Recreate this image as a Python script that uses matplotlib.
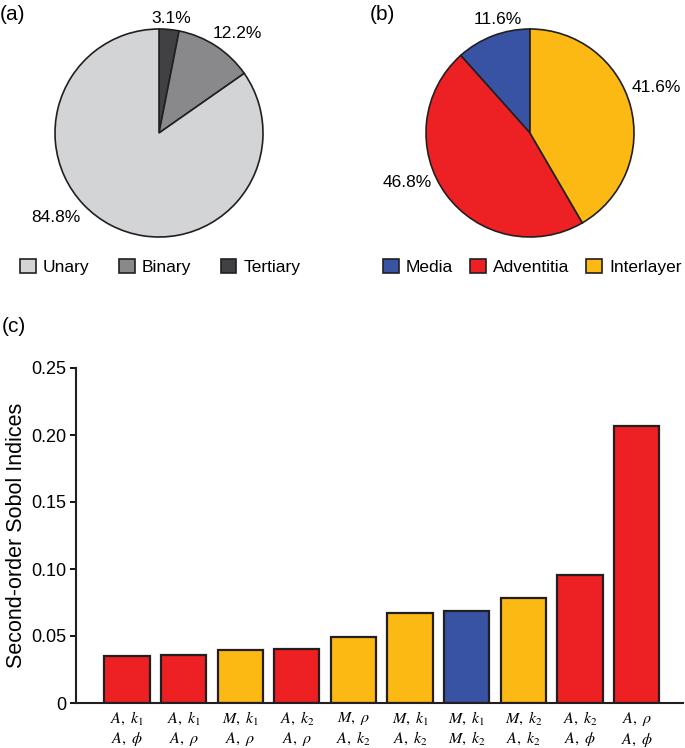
import numpy as np
import matplotlib
matplotlib.use("Agg")
import matplotlib.pyplot as plt
from matplotlib.patches import Patch

plt.rcParams['font.family'] = ['Liberation Sans', 'DejaVu Sans']
plt.rcParams['mathtext.fontset'] = 'stix'

# panel (a)
order_labels = ['Unary', 'Binary', 'Tertiary']
order_values = [84.8, 12.2, 3.1]
order_colors = ['#d3d4d6', '#89898c', '#414042']

# panel (b)
layer_labels = ['Media', 'Adventitia', 'Interlayer']
layer_values = [11.6, 46.8, 41.6]
layer_colors = ['#3953a4', '#ed2024', '#fdb913']

# panel (c)
pair_labels = [r'$A,\;k_1$' + '\n' + r'$A,\;\phi$',
               r'$A,\;k_1$' + '\n' + r'$A,\;\rho$',
               r'$M,\;k_1$' + '\n' + r'$A,\;\rho$',
               r'$A,\;k_2$' + '\n' + r'$A,\;\rho$',
               r'$M,\;\rho$' + '\n' + r'$A,\;k_2$',
               r'$M,\;k_1$' + '\n' + r'$A,\;k_2$',
               r'$M,\;k_1$' + '\n' + r'$M,\;k_2$',
               r'$M,\;k_2$' + '\n' + r'$A,\;k_2$',
               r'$A,\;k_2$' + '\n' + r'$A,\;\phi$',
               r'$A,\;\rho$' + '\n' + r'$A,\;\phi$']
sobol = [0.035, 0.0355, 0.0396, 0.0403, 0.049, 0.067, 0.069, 0.078, 0.0955, 0.207]
pair_layer = ['Adventitia', 'Adventitia', 'Interlayer', 'Adventitia', 'Interlayer',
              'Interlayer', 'Media', 'Interlayer', 'Adventitia', 'Adventitia']

W, H = 685, 748
fig = plt.figure(figsize=(W / 100, H / 100), dpi=100)

R = 104.0  # pie radius in px
LIM = 1.3
side = 2 * LIM * R


def pie_axes(cx, cy):
    return fig.add_axes([(cx - side / 2) / W, (H - cy - side / 2) / H, side / W, side / H])


edge = '#231f20'

# ---- (a)
axa = pie_axes(159, 133)
axa.pie(order_values[::-1], colors=order_colors[::-1], startangle=90, counterclock=False,
        wedgeprops=dict(edgecolor=edge, linewidth=1.2))
axa.set_xlim(-LIM, LIM)
axa.set_ylim(-LIM, LIM)
axa.set_aspect('equal')
axa.axis('off')
# percent labels (angle deg, distance)
for v, ang, d in [(3.1, 83.8, 1.11), (12.2, 52, 1.22), (84.8, -140.8, 1.28)]:
    a = np.deg2rad(ang)
    axa.text(d * np.cos(a), d * np.sin(a), f'{v}%', ha='center', va='center', fontsize=12.5)
h_a = [Patch(facecolor=c, edgecolor=edge, linewidth=1.2) for c in order_colors]
axa.legend(h_a, order_labels, loc='center', bbox_to_anchor=(0.505, 0.005), ncol=3,
           frameon=False, fontsize=12.5, handlelength=0.9, handleheight=0.9,
           handletextpad=0.4, columnspacing=1.7)

# ---- (b)
axb = pie_axes(530, 133)
axb.pie(layer_values, colors=layer_colors, startangle=90, counterclock=True,
        wedgeprops=dict(edgecolor=edge, linewidth=1.2))
axb.set_xlim(-LIM, LIM)
axb.set_ylim(-LIM, LIM)
axb.set_aspect('equal')
axb.axis('off')
for v, ang, d in [(11.6, 106, 1.14), (46.8, -158.2, 1.27), (41.6, 19.7, 1.29)]:
    a = np.deg2rad(ang)
    axb.text(d * np.cos(a), d * np.sin(a), f'{v}%', ha='center', va='center', fontsize=12.5)
h_b = [Patch(facecolor=c, edgecolor=edge, linewidth=1.2) for c in layer_colors]
axb.legend(h_b, layer_labels, loc='center', bbox_to_anchor=(0.508, 0.005), ncol=3,
           frameon=False, fontsize=12.5, handlelength=0.9, handleheight=0.9,
           handletextpad=0.4, columnspacing=1.0)

# ---- (c)
axc = fig.add_axes([76 / W, 45 / H, (683 - 76) / W, (703 - 368) / H])
cmap = dict(zip(layer_labels, layer_colors))
x = np.arange(len(sobol))
axc.bar(x, sobol, width=0.8, color=[cmap[p] for p in pair_layer],
        edgecolor=edge, linewidth=1.6)
axc.set_xlim(-0.9, 9.82)
axc.set_ylim(0, 0.25)
axc.set_yticks([0, 0.05, 0.10, 0.15, 0.20, 0.25])
axc.set_yticklabels(['0', '0.05', '0.10', '0.15', '0.20', '0.25'], fontsize=13)
axc.set_xticks(x)
axc.set_xticklabels(pair_labels, fontsize=11.5, linespacing=1.2)
axc.tick_params(axis='x', length=0, pad=5)
axc.tick_params(axis='y', direction='out', length=4, width=1.3, pad=3)
for s in ['top', 'right']:
    axc.spines[s].set_visible(False)
for s in ['left', 'bottom']:
    axc.spines[s].set_linewidth(1.5)
    axc.spines[s].set_color('#231f20')
axc.set_ylabel('Second-order Sobol Indices', fontsize=15.5, labelpad=3)

fig.text(0 / W, 1 - 14 / H, '(a)', fontsize=15, va='center', ha='left')
fig.text(370 / W, 1 - 14 / H, '(b)', fontsize=15, va='center', ha='left')
fig.text(2 / W, 1 - 326 / H, '(c)', fontsize=15, va='center', ha='left')

fig.savefig('out.png', dpi=100)
